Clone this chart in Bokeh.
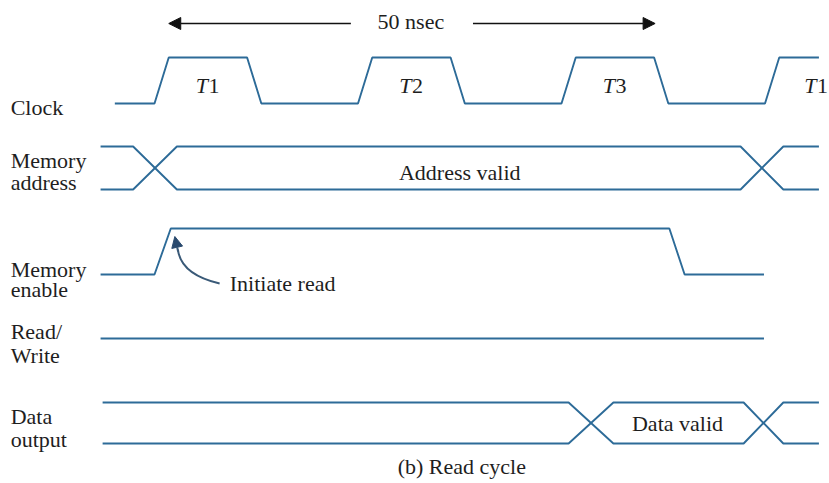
from bokeh.plotting import figure
from bokeh.models import Range1d, Arrow, NormalHead
from bokeh.core.properties import value
from bokeh.embed import file_html
from bokeh.resources import INLINE

# ---------------- data (time in ns-like units, levels 0/1) ----------------
clock_t = [-3.9, 0.0, 1.4, 9.1, 10.5, 20.0, 21.4, 29.1, 30.5, 40.0, 41.4, 49.1, 50.5, 60.0, 61.4, 65.3]
clock_v = [0, 0, 1, 1, 0, 0, 1, 1, 0, 0, 1, 1, 0, 0, 1, 1]

addr_t = [-5.3, -2.1, 2.2, 57.6, 61.8, 65.3]
addr_a = [1, 1, 0, 0, 1, 1]
addr_b = [0, 0, 1, 1, 0, 0]

enable_t = [-5.3, 0.0, 1.6, 50.6, 52.1, 59.9]
enable_v = [0, 0, 1, 1, 0, 0]

rw_t = [-5.3, 59.9]
rw_v = [0, 0]

data_t = [-5.1, 40.7, 45.1, 57.9, 61.8, 65.3]
data_a = [1, 1, 0, 0, 1, 1]
data_b = [0, 0, 1, 1, 0, 0]

# lane (low, high) levels
lane_clock = (37.2, 41.8)
lane_addr = (28.6, 32.9)
lane_enable = (20.1, 24.7)
lane_rw = (13.7, 13.7)
lane_data = (3.2, 7.3)

signal_labels = ["Clock", "Memory", "address", "Memory", "enable", "Read/", "Write", "Data", "output"]
signal_label_y = [36.8, 31.5, 29.3, 20.6, 18.6, 14.4, 12.0, 5.9, 3.6]

period_labels = ["1", "2", "3", "1"]
period_label_t = [5.3, 25.3, 45.3, 65.1]

# ---------------- figure ----------------
W, H = 829, 483
PX_PER_UNIT = 10.175
X0 = -154 / PX_PER_UNIT
X1 = X0 + W / PX_PER_UNIT
Y0 = -0.8
Y1 = Y0 + H / 10.0

p = figure(width=W, height=H, x_range=Range1d(X0, X1), y_range=Range1d(Y0, Y1),
           output_backend="svg", toolbar_location=None, min_border=0,
           x_axis_type=None, y_axis_type=None)
p.grid.visible = False
p.outline_line_color = None
p.background_fill_color = "white"
p.border_fill_color = "white"

LINE = "#2d6b98"
TXT = "#1e1e1e"
FONT = value("Liberation Serif")
FS = "22px"


def lvl(vals, lane):
    lo, hi = lane
    return [lo + v * (hi - lo) for v in vals]


for ts, vs, lane in [(clock_t, clock_v, lane_clock),
                     (addr_t, addr_a, lane_addr), (addr_t, addr_b, lane_addr),
                     (enable_t, enable_v, lane_enable),
                     (rw_t, rw_v, lane_rw),
                     (data_t, data_a, lane_data), (data_t, data_b, lane_data)]:
    p.line(ts, lvl(vs, lane), line_color=LINE, line_width=1.9)

# left signal names
p.text(x=[X0 + 1.0] * len(signal_labels), y=signal_label_y, text=signal_labels,
       text_font=FONT, text_font_size=FS, text_color=TXT,
       text_align="left", text_baseline="alphabetic")

# T1 T2 T3 T1 labels (italic T + roman digit)
ty = [39.0] * len(period_labels)
p.text(x=[t - 0.05 for t in period_label_t], y=ty, text=["T"] * len(period_labels),
       text_font=FONT, text_font_size=FS, text_font_style="italic", text_color=TXT,
       text_align="right", text_baseline="alphabetic")
p.text(x=period_label_t, y=ty, text=period_labels,
       text_font=FONT, text_font_size=FS, text_color=TXT,
       text_align="left", text_baseline="alphabetic")

# annotation texts
p.text(x=[25.2], y=[45.4], text=["50 nsec"], text_font=FONT, text_font_size=FS,
       text_color=TXT, text_align="center", text_baseline="alphabetic")
p.text(x=[30.0], y=[30.3], text=["Address valid"], text_font=FONT, text_font_size=FS,
       text_color=TXT, text_align="center", text_baseline="alphabetic")
p.text(x=[51.4], y=[5.2], text=["Data valid"], text_font=FONT, text_font_size=FS,
       text_color=TXT, text_align="center", text_baseline="alphabetic")
p.text(x=[7.4], y=[19.2], text=["Initiate read"], text_font=FONT, text_font_size=FS,
       text_color=TXT, text_align="left", text_baseline="alphabetic")
p.text(x=[30.2], y=[0.9], text=["(b) Read cycle"], text_font=FONT, text_font_size=FS,
       text_color=TXT, text_align="center", text_baseline="alphabetic")

# 50 nsec arrows
for xs, xe in [(19.3, 1.4), (31.3, 49.2)]:
    p.add_layout(Arrow(end=NormalHead(size=12, fill_color="#111111", line_color="#111111", line_width=1),
                       x_start=xs, y_start=45.2, x_end=xe, y_end=45.2,
                       line_color="#111111", line_width=1.6))

# Initiate read curved arrow
p.quadratic(x0=[6.4], y0=[19.2], x1=[2.3], y1=[22.6], cx=[2.6], cy=[20.1],
            line_color="#3a5a78", line_width=2)
p.add_layout(Arrow(end=NormalHead(size=11, fill_color="#2a4a6e", line_color="#2a4a6e", line_width=1),
                   x_start=2.32, y_start=22.4, x_end=2.0, y_end=23.9,
                   line_color="#3a5a78", line_width=2))

open("out.html", "w").write(file_html(p, INLINE))
